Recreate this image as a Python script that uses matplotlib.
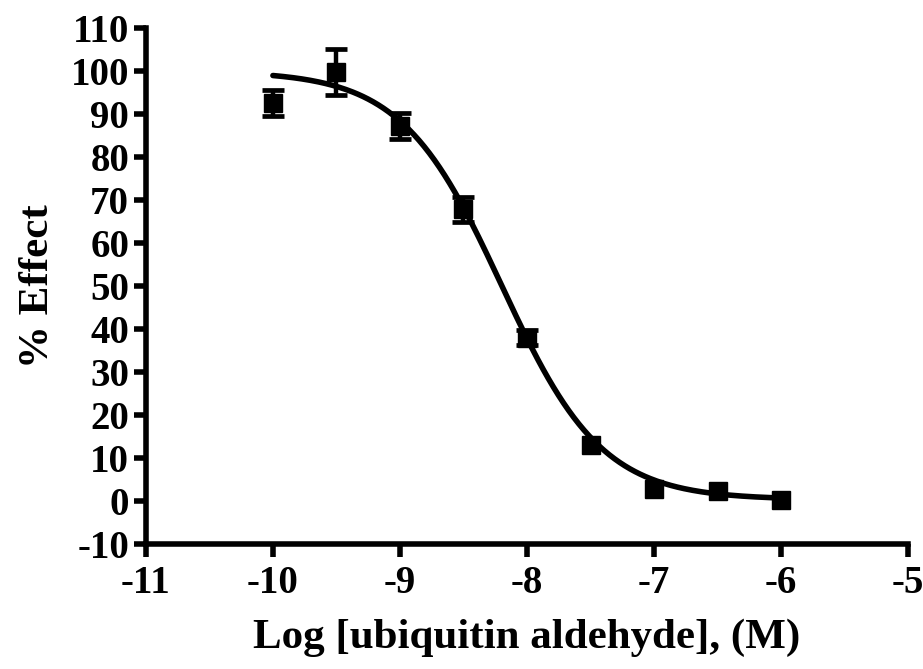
import numpy as np
import matplotlib
matplotlib.use("Agg")
import matplotlib.pyplot as plt

# log concentration of ubiquitin aldehyde (M) and measured effect
log_conc = [-10.0, -9.5, -9.0, -8.5, -8.0, -7.5, -7.0, -6.5, -6.0]
effect = [92.5, 99.8, 87.3, 67.8, 38.0, 13.0, 2.8, 2.2, 0.3]
sem = [3.0, 5.3, 3.0, 2.8, 1.8, 0.0, 0.0, 0.0, 0.0]

# four-parameter logistic fit (top, bottom, logIC50, Hill slope)
fit_top = 100.0
fit_bottom = 0.3
fit_log_ic50 = -8.2
fit_hill = 1.1

plt.rcParams['font.family'] = ['Liberation Serif', 'DejaVu Serif']
plt.rcParams['font.weight'] = 'bold'
plt.rcParams['axes.unicode_minus'] = False

fig = plt.figure(figsize=(9.23, 6.69), dpi=100)
ax = fig.add_axes([0.158, 0.187, 0.826, 0.771])

x = np.array(log_conc)
y = np.array(effect)
e = np.array(sem)

xs = np.linspace(x.min(), x.max(), 300)
ys = fit_bottom + (fit_top - fit_bottom) / (1 + 10 ** ((xs - fit_log_ic50) * fit_hill))
ax.plot(xs, ys, color='black', lw=4, solid_capstyle='round', zorder=2)

has_err = e > 0
ax.errorbar(x[has_err], y[has_err], yerr=e[has_err], fmt='none', ecolor='black',
            elinewidth=3.2, capsize=8, capthick=3.4, zorder=3)
ax.plot(x, y, 's', color='black', ms=13, zorder=4)

ax.set_xlim(-11, -5)
ax.set_ylim(-10, 110)
ax.set_xticks(np.arange(-11, -4, 1))
ax.set_yticks(np.arange(-10, 111, 10))

for side in ['top', 'right']:
    ax.spines[side].set_visible(False)
for side in ['left', 'bottom']:
    ax.spines[side].set_linewidth(4)
    ax.spines[side].set_capstyle('projecting')

ax.tick_params(axis='both', direction='out', length=9, width=4,
               labelsize=28, pad=3)
ax.tick_params(axis='x', pad=6)
for lab in ax.get_xticklabels() + ax.get_yticklabels():
    lab.set_fontweight('bold')

ax.set_xlabel('Log [ubiquitin aldehyde], (M)', fontsize=31, fontweight='bold', labelpad=12)
ax.set_ylabel('% Effect', fontsize=31, fontweight='bold', labelpad=10)

fig.savefig('out.png', dpi=100)
